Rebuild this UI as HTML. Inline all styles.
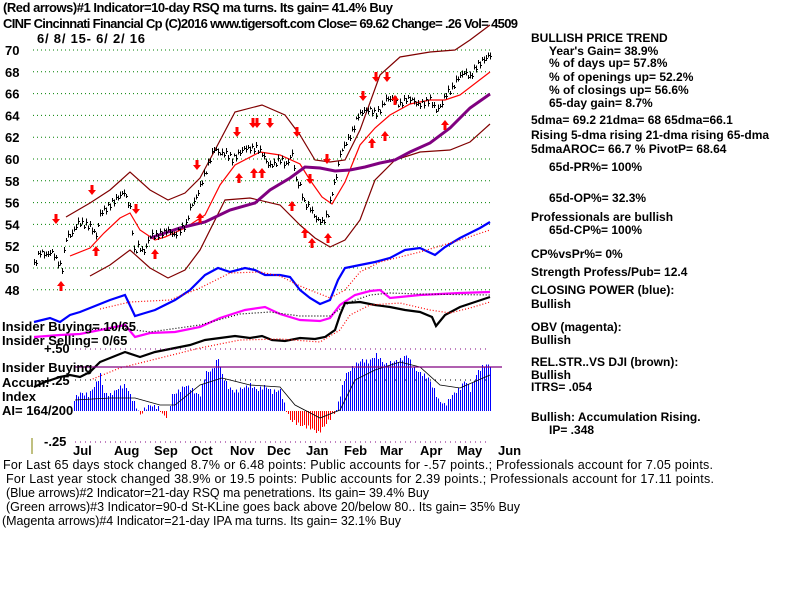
<!DOCTYPE html>
<html><head><meta charset="utf-8"><style>
body{margin:0;background:#fff;}
svg{display:block;font-family:"Liberation Sans",sans-serif;}
.t{font-weight:bold;font-size:13px;fill:#000;}
.r{font-weight:bold;font-size:12px;fill:#000;}
.b{font-size:12.5px;fill:#000;}
</style></head><body>
<svg id="s" width="800" height="600" viewBox="0 0 800 600">
<rect width="800" height="600" fill="#fff"/>
<g id="grid" stroke="#008000" stroke-dasharray="1,3" stroke-width="1"></g>
<g id="lab" class="t"></g>
<text x="3" y="12" class="t" textLength="390">(Red arrows)#1 Indicator=10-day RSQ ma turns.  Its gain= 41.4% Buy</text>
<text x="3" y="28" class="t" textLength="515">CINF   Cincinnati Financial Cp   (C)2016 www.tigersoft.com     Close=  69.62   Change= .26  Vol= 4509</text>
<text x="37" y="43" class="t" textLength="108">6/ 8/ 15- 6/ 2/ 16</text>
<g fill="none" stroke-width="1.2">
<path id="bu" stroke="#800000"/><path id="bl" stroke="#800000"/>
<path id="m21" stroke="#ff0000"/>
<path id="m65" stroke="#800080" stroke-width="3"/>
<path id="blu" stroke="#0000ff" stroke-width="2.2"/>
<path id="blud" stroke="#ff0000" stroke-dasharray="1,2"/>
<path id="mag" stroke="#ff00ff" stroke-width="2.2"/>
<path id="magd" stroke="#000" stroke-dasharray="1,2"/>
<path id="blk" stroke="#000" stroke-width="2.2"/>
<path id="blkd" stroke="#ff0000" stroke-dasharray="1,2"/>
</g>
<g id="price" stroke="#000" stroke-width="1" shape-rendering="crispEdges"></g>
<g id="arrows" fill="#ff0000"></g>
<line x1="75" y1="349" x2="490" y2="349" stroke="#800080" stroke-dasharray="1,4"/>
<line x1="75" y1="380" x2="490" y2="380" stroke="#000" stroke-dasharray="1,4"/>
<line x1="75" y1="442" x2="490" y2="442" stroke="#800080" stroke-dasharray="1,4"/>
<g id="hist" shape-rendering="crispEdges"></g>
<path id="aiMa" fill="none" stroke="#000" stroke-width="0.8"/>
<line x1="75" y1="367" x2="502" y2="367" stroke="#800080" stroke-width="1.3"/>
<line x1="32" y1="438" x2="32" y2="454" stroke="#808000"/>
<text x="2" y="331" class="t">Insider Buying= 10/65</text>
<text x="2" y="345" class="t">Insider Selling= 0/65</text>
<text x="44" y="353" class="t">+.50</text>
<text x="2" y="372" class="t">Insider Buying</text>
<text x="2" y="387" class="t">Accum.</text><text x="44" y="385" class="t">+.25</text>
<text x="2" y="401" class="t">Index</text>
<text x="2" y="415" class="t">AI= 164/200</text>
<text x="44" y="446" class="t">-.25</text>
<g class="t">
<text x="73" y="455">Jul</text><text x="114" y="455">Aug</text><text x="154" y="455">Sep</text><text x="191" y="455">Oct</text><text x="230" y="455">Nov</text><text x="267" y="455">Dec</text><text x="306" y="455">Jan</text><text x="344" y="455">Feb</text><text x="380" y="455">Mar</text><text x="420" y="455">Apr</text><text x="457" y="455">May</text><text x="498" y="455">Jun</text>
</g>
<g class="r">
<text x="531" y="42">BULLISH PRICE TREND</text>
<text x="549" y="55">Year's Gain= 38.9%</text>
<text x="549" y="67">% of days up= 57.8%</text>
<text x="549" y="81">% of openings up= 52.2%</text>
<text x="549" y="94">% of closings up= 56.6%</text>
<text x="549" y="107">65-day gain= 8.7%</text>
<text x="531" y="124">5dma= 69.2 21dma= 68 65dma=66.1</text>
<text x="531" y="139">Rising 5-dma  rising 21-dma  rising 65-dma</text>
<text x="531" y="153">5dmaAROC= 66.7 %  PivotP= 68.64</text>
<text x="549" y="171">65d-PR%= 100%</text>
<text x="549" y="202">65d-OP%= 32.3%</text>
<text x="531" y="221">Professionals are bullish</text>
<text x="549" y="234">65d-CP%= 100%</text>
<text x="531" y="258">CP%vsPr%=  0%</text>
<text x="531" y="276">Strength Profess/Pub= 12.4</text>
<text x="531" y="294">CLOSING POWER (blue):</text>
<text x="531" y="308">Bullish</text>
<text x="531" y="331">OBV (magenta):</text>
<text x="531" y="344">Bullish</text>
<text x="531" y="366">REL.STR..VS DJI (brown):</text>
<text x="531" y="379">Bullish</text>
<text x="531" y="391">ITRS= .054</text>
<text x="531" y="421">Bullish: Accumulation Rising.</text>
<text x="549" y="434">IP=  .348</text>
</g>
<g class="b">
<text x="3" y="469" textLength="710">For Last 65 days stock changed  8.7% or  6.48 points:  Public accounts for -.57 points.;  Professionals account for  7.05 points.</text>
<text x="6" y="483" textLength="708">For Last year stock changed  38.9% or  19.5 points:  Public accounts for  2.39 points.;  Professionals account for  17.11 points.</text>
<text x="6" y="497" textLength="423">(Blue arrows)#2 Indicator=21-day RSQ ma penetrations. Its gain= 39.4% Buy</text>
<text x="6" y="511" textLength="514">(Green arrows)#3 Indicator=90-d St-KLine goes back above 20/below 80.. Its gain= 35% Buy</text>
<text x="2" y="525" textLength="399">(Magenta arrows)#4 Indicator=21-day IPA ma turns. Its gain= 32.1% Buy</text>
</g>
</svg>
<script>
const NS="http://www.w3.org/2000/svg";
function el(t,a,p){const e=document.createElementNS(NS,t);for(const k in a)e.setAttribute(k,a[k]);document.getElementById(p).appendChild(e);return e;}
function Y(p){return 50+(70-p)*10.9;}
for(let i=0;i<12;i++){const v=70-2*i;const y=Y(v);el('line',{x1:33,y1:y,x2:490,y2:y},'grid');el('text',{x:5,y:y+5},'lab').textContent=v;}
function interp(pts,x){for(let i=0;i<pts.length-1;i++){if(x>=pts[i][0]&&x<=pts[i+1][0]){const t=(x-pts[i][0])/(pts[i+1][0]-pts[i][0]);return pts[i][1]+t*(pts[i+1][1]-pts[i][1]);}}return pts[pts.length-1][1];}
function path(id,pts){document.getElementById(id).setAttribute('d','M'+pts.map(p=>p[0]+','+p[1]).join(' L'));}
const pr=[[34,50.3],[40,51.5],[46,51.2],[52,51.5],[58,50.5],[62,50],[66,52.8],[72,53.2],[78,54.2],[84,54],[90,53.8],[96,53],[100,55],[106,55.5],[112,56],[118,56.5],[124,57],[130,55.5],[134,51.5],[138,52],[144,51.5],[150,53],[156,53],[162,53.2],[168,53.5],[174,53],[180,53.5],[186,54],[190,55.5],[196,56.5],[202,58],[208,59.5],[214,61],[220,60.5],[226,60.5],[232,60],[238,60.5],[244,61],[250,61],[256,61],[262,60.5],[268,59.5],[274,59.5],[280,60],[286,59.5],[292,60.5],[296,58],[300,57.5],[304,56],[310,55.5],[316,54.5],[322,54.2],[328,55],[332,57],[336,58.5],[340,60.5],[346,61.5],[352,62.5],[358,64],[364,64.5],[370,64.5],[376,64.2],[380,64.5],[386,65.5],[392,65.5],[400,65],[406,65.5],[412,65.5],[418,65],[424,65.2],[430,65.5],[436,64.5],[440,64.8],[446,66],[452,66.5],[458,67.5],[464,68],[470,67.5],[476,68.5],[482,69],[490,69.6]];
for(let x=34;x<=490;x+=2){const c=interp(pr,x);const n=Math.sin(x*1.7)*0.25;const y=Math.round(Y(c+n));const h=3+Math.round(Math.abs(Math.sin(x*0.9))*4);el('line',{x1:x+0.5,y1:y-h/2,x2:x+0.5,y2:y+h/2},'price');el('line',{x1:x+0.5,y1:y+0.5,x2:x+2,y2:y+0.5},'price');}
path('bu',[[66,217],[90,203],[110,190],[130,172],[150,190],[168,200],[185,193],[200,178],[215,150],[235,112],[262,105],[285,115],[300,135],[315,160],[330,162],[345,160],[360,130],[380,75],[400,57],[430,52],[455,50],[470,40],[490,25]]);
path('bl',[[90,276],[110,265],[130,250],[150,268],[168,278],[185,270],[200,250],[225,200],[250,198],[280,205],[300,225],[315,238],[330,247],[345,240],[360,220],[375,180],[395,160],[420,152],[450,150],[470,142],[490,124]]);
path('m21',[[70,256],[90,248],[104,233],[120,218],[130,213],[140,230],[155,240],[165,237],[185,228],[205,215],[220,185],[235,165],[260,152],[280,155],[300,164],[310,180],[322,197],[332,204],[345,182],[360,145],[375,128],[390,115],[410,104],[430,100],[445,100],[460,95],[490,72]]);
path('m65',[[150,238],[180,228],[205,222],[230,210],[255,203],[270,190],[290,178],[305,167],[320,168],[335,171],[350,170],[365,167],[380,163],[395,160],[410,152],[430,143],[450,128],[470,108],[490,94]]);
path('blu',[[34,322],[50,318],[60,322],[70,315],[80,312],[90,308],[100,304],[110,300],[125,295],[135,316],[145,313],[155,310],[175,300],[190,290],[205,275],[218,268],[230,272],[245,268],[255,270],[265,275],[280,275],[290,277],[300,290],[310,298],[320,304],[330,300],[338,280],[345,268],[360,265],[375,262],[390,258],[405,250],[420,248],[435,255],[445,247],[460,238],[470,233],[480,228],[490,222]]);
path('blud',[[100,309],[130,302],[170,300],[200,288],[230,273],[260,272],[280,276],[300,286],[330,298],[345,290],[360,272],[380,262],[420,252],[460,240],[490,230]]);
path('mag',[[34,337],[60,335],[80,334],[110,328],[125,325],[135,337],[150,333],[175,332],[200,327],[220,318],[245,310],[265,307],[280,314],[300,320],[320,321],[330,318],[340,305],[355,295],[370,291],[380,290],[390,298],[400,297],[420,295],[440,294],[460,293],[490,292]]);
path('magd',[[80,330],[120,328],[150,332],[200,325],[240,314],[270,312],[300,316],[330,316],[350,302],[370,295],[390,293],[420,294],[490,295]]);
path('blk',[[34,387],[45,382],[60,377],[70,375],[80,377],[90,372],[100,362],[115,356],[125,352],[140,357],[155,352],[175,348],[190,345],[205,340],[220,338],[235,336],[250,338],[262,336],[272,340],[285,341],[300,338],[315,339],[325,337],[335,330],[340,315],[345,303],[360,302],[375,305],[390,307],[405,310],[420,312],[432,317],[436,326],[445,315],[460,307],[475,302],[490,297]]);
path('blkd',[[90,380],[120,368],[160,358],[200,348],[240,340],[280,339],[320,342],[340,330],[350,315],[370,305],[400,303],[430,310],[450,313],[470,308],[490,302]]);
function arrow(x,y,down){if(down)el('path',{d:`M${x-1.5},${y-8} h3 v5 h2.5 l-4,5 l-4,-5 h2.5z`},'arrows');else el('path',{d:`M${x-1.5},${y+8} h3 v-5 h2.5 l-4,-5 l-4,5 h2.5z`},'arrows');}
[[56,222],[92,193],[136,212],[197,168],[237,135],[253,126],[257,126],[270,126],[297,135],[310,182],[327,162],[363,99],[376,80],[387,80]].forEach(a=>arrow(a[0],a[1],1));
[[61,283],[96,248],[155,251],[200,215],[239,175],[254,170],[262,170],[292,203],[305,230],[312,240],[328,235],[372,140],[385,133],[445,122],[395,97]].forEach(a=>arrow(a[0],a[1],0));
const ai=[[73,400],[80,393],[88,395],[95,385],[100,375],[104,393],[110,395],[118,388],[125,385],[130,395],[135,405],[140,415],[145,408],[150,405],[158,408],[165,418],[168,413],[172,395],[180,390],[185,385],[190,388],[195,393],[200,395],[205,373],[212,370],[218,358],[222,375],[228,387],[235,392],[242,388],[250,385],[257,390],[265,386],[272,392],[280,390],[285,408],[290,420],[300,425],[310,428],[318,433],[325,425],[330,418],[336,410],[340,395],[345,375],[355,365],[362,360],[368,362],[376,355],[385,365],[392,362],[400,360],[407,355],[413,368],[420,373],[428,378],[434,390],[438,400],[445,405],[452,395],[460,388],[465,380],[470,390],[477,372],[484,365],[490,365]];
for(let x=74;x<=490;x+=2){const y=interp(ai,x)+Math.sin(x*1.3)*2;const c=y>411?'#ff0000':'#0000ff';el('rect',{x:x,y:Math.min(411,y),width:1,height:Math.abs(411-y),fill:c},'hist');}
path('aiMa',[[75,400],[110,398],[135,398],[160,405],[175,405],[200,385],[222,378],[250,385],[280,387],[295,405],[320,418],[340,410],[355,380],[375,370],[400,362],[420,367],[440,385],[460,388],[490,375]]);
</script>
</body></html>
